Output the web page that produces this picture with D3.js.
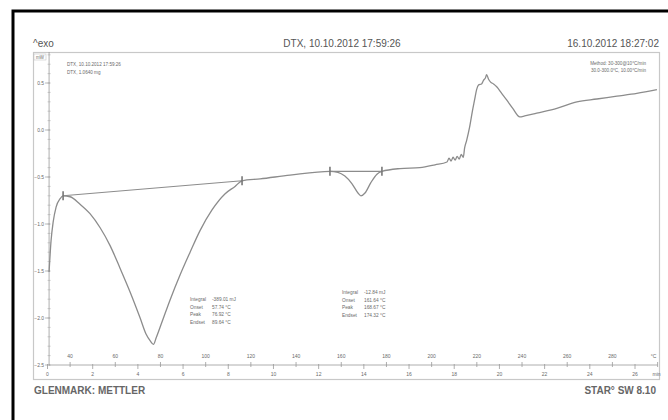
<!DOCTYPE html>
<html>
<head>
<meta charset="utf-8">
<script src="https://cdn.jsdelivr.net/npm/d3@7"></script>
<style>
  body { margin: 0; background: #fff; }
  svg { display: block; font-family: "Liberation Sans", Arial, sans-serif; }
</style>
</head>
<body>
<svg id="chart" width="668" height="420"></svg>
<script>
// DSC curve: sample temperature (°C) and heat flow (mW), exo up
const temperature = [30.7, 31.6, 32.5, 33.8, 35.6, 36.9, 40.0, 44.4, 48.8, 53.3, 57.7, 62.1, 66.5, 71.0, 73.6, 75.4, 76.9,
  78.1, 80.7, 84.2, 88.7, 93.1, 97.5, 102.8, 108.5, 113.0, 116.1, 124.1, 137.3, 155.0, 158.5, 161.6, 164.7, 167.4, 168.7,
  170.5, 173.1, 175.8, 178.0, 186.0, 194.8, 201.5, 206.8, 207.7, 208.6, 209.5, 210.4, 211.3, 212.2, 213.1, 214.0, 214.6,
  215.5, 216.8, 218.1, 219.0, 219.9, 220.8, 222.1, 223.0, 223.9, 224.3, 225.2, 226.1, 227.4, 228.8, 231.0, 233.2, 235.9,
  239.0, 241.2, 246.5, 255.4, 264.3, 273.1, 282.0, 290.8, 299.7];
const heatFlow = [-1.51, -1.17, -0.98, -0.82, -0.73, -0.70, -0.71, -0.79, -0.89, -1.04, -1.23, -1.47, -1.72, -2.00, -2.17, -2.24, -2.28,
  -2.21, -2.04, -1.81, -1.54, -1.30, -1.07, -0.85, -0.68, -0.60, -0.54, -0.52, -0.48, -0.44, -0.45, -0.49, -0.57, -0.67, -0.70,
  -0.67, -0.56, -0.47, -0.44, -0.41, -0.40, -0.37, -0.34, -0.30, -0.33, -0.29, -0.32, -0.28, -0.31, -0.26, -0.29, -0.19,
  -0.11, 0.03, 0.21, 0.32, 0.43, 0.48, 0.49, 0.53, 0.56, 0.59, 0.54, 0.51, 0.49, 0.46, 0.39, 0.32, 0.23,
  0.14, 0.15, 0.18, 0.23, 0.30, 0.33, 0.36, 0.39, 0.43];

// Integration limits of the two evaluated peaks (baseline end points)
const peakLimits = [[36.9, 116.1], [155.0, 178.0]];

const tempTicks = [40, 60, 80, 100, 120, 140, 160, 180, 200, 220, 240, 260, 280];
const timeTicks = [2, 4, 6, 8, 10, 12, 14, 16, 18, 20, 22, 24, 26];
const heatTicks = [0.5, 0.0, -0.5, -1.0, -1.5, -2.0, -2.5];

const evalLabels = ["Integral", "Onset", "Peak", "Endset"];
const evalPeak1 = ["-389.01 mJ", "57.74 °C", "76.92 °C", "89.64 °C"];
const evalPeak2 = ["-12.84 mJ", "161.64 °C", "168.67 °C", "174.32 °C"];

const sampleInfo = ["DTX, 10.10.2012 17:59:26", "DTX, 1.0640 mg"];
const methodInfo = ["Method: 30-300@10°C/min", "30.0-300.0°C, 10.00°C/min"];

const svg = d3.select("#chart");
const ink = "#6a6a6a";
const curveColor = "#8c8c8c";

// page frame (left and top edges of the sheet)
svg.append("path").attr("d", "M13,420 V11 H668").attr("fill", "none")
  .attr("stroke", "#000").attr("stroke-width", 3);

// header
svg.append("text").attr("x", 33).attr("y", 47).attr("font-size", 10).attr("fill", "#555").text("^exo");
svg.append("text").attr("x", 342).attr("y", 47).attr("font-size", 10).attr("fill", "#555")
  .attr("text-anchor", "middle").text("DTX, 10.10.2012 17:59:26");
svg.append("text").attr("x", 659).attr("y", 47).attr("font-size", 10).attr("fill", "#555")
  .attr("text-anchor", "end").text("16.10.2012 18:27:02");

// plot panel
svg.append("rect").attr("x", 33.5).attr("y", 52.5).attr("width", 626).attr("height", 327)
  .attr("fill", "none").attr("stroke", "#c8c8c8").attr("stroke-width", 1.2);

// footer
svg.append("text").attr("x", 34).attr("y", 394).attr("font-size", 10).attr("font-weight", "bold")
  .attr("fill", "#666").text("GLENMARK: METTLER");
svg.append("text").attr("x", 656).attr("y", 394).attr("font-size", 10).attr("font-weight", "bold")
  .attr("fill", "#666").attr("text-anchor", "end").text("STAR° SW 8.10");

// scales
const x = d3.scaleLinear().domain([30, 300]).range([47.5, 657.6]);
const xTime = d3.scaleLinear().domain([0, 27]).range([47.5, 657.6]);
const y = d3.scaleLinear().domain([-2.5, 0.83]).range([365, 52]);
const axisX = x(temperature[0]);
const axisY = y(-2.5);

// y axis
const gy = svg.append("g").attr("transform", `translate(${axisX},0)`);
gy.append("line").attr("y1", y(0.83)).attr("y2", axisY).attr("stroke", "#999").attr("stroke-width", 0.8);
gy.selectAll("line.minor").data(d3.range(-25, 9).map(v => v / 10)).join("line")
  .attr("class", "minor").attr("x1", -1.5).attr("x2", 1.5)
  .attr("y1", d => y(d)).attr("y2", d => y(d)).attr("stroke", "#aaa").attr("stroke-width", 0.6);
gy.selectAll("line.major").data(heatTicks).join("line")
  .attr("class", "major").attr("x1", -4).attr("x2", 1)
  .attr("y1", d => y(d)).attr("y2", d => y(d)).attr("stroke", "#999").attr("stroke-width", 0.7);
gy.selectAll("text").data(heatTicks).join("text")
  .attr("x", -5).attr("y", d => y(d) + 1.8).attr("text-anchor", "end")
  .attr("font-size", 5).attr("fill", ink).text(d => d3.format(".1f")(d));
svg.append("rect").attr("x", 34).attr("y", 54).attr("width", 12).attr("height", 6)
  .attr("fill", "#fff").attr("stroke", "#bbb").attr("stroke-width", 0.5);
svg.append("text").attr("x", 36).attr("y", 58.5).attr("font-size", 4.5).attr("fill", ink).text("mW");

// x axis: temperature above, time below
const gx = svg.append("g");
gx.append("line").attr("x1", axisX).attr("x2", x(300)).attr("y1", axisY).attr("y2", axisY)
  .attr("stroke", "#999").attr("stroke-width", 0.8);
gx.selectAll("line.t").data(tempTicks.concat([300])).join("line").attr("class", "t")
  .attr("x1", d => x(d)).attr("x2", d => x(d)).attr("y1", axisY - 3).attr("y2", axisY + 2)
  .attr("stroke", "#999").attr("stroke-width", 0.8);
gx.selectAll("text.t").data(tempTicks).join("text").attr("class", "t")
  .attr("x", d => x(d)).attr("y", axisY - 7).attr("text-anchor", "middle")
  .attr("font-size", 5).attr("fill", ink).text(d => d);
gx.append("text").attr("x", x(300) - 4).attr("y", axisY - 7).attr("text-anchor", "middle")
  .attr("font-size", 5).attr("fill", ink).text("°C");
gx.selectAll("line.m").data([0].concat(timeTicks)).join("line").attr("class", "m")
  .attr("x1", d => xTime(d)).attr("x2", d => xTime(d)).attr("y1", axisY - 1).attr("y2", axisY + 4)
  .attr("stroke", "#999").attr("stroke-width", 0.8);
gx.selectAll("text.m").data([0].concat(timeTicks)).join("text").attr("class", "m")
  .attr("x", d => xTime(d)).attr("y", axisY + 11).attr("text-anchor", "middle")
  .attr("font-size", 5).attr("fill", ink).text(d => d);
gx.append("text").attr("x", x(300) - 1).attr("y", axisY + 11).attr("text-anchor", "middle")
  .attr("font-size", 5).attr("fill", ink).text("min");

// curve
const pts = temperature.map((t, i) => [t, heatFlow[i]]);
svg.append("path").datum(pts)
  .attr("d", d3.line().x(d => x(d[0])).y(d => y(d[1])).curve(d3.curveMonotoneX))
  .attr("fill", "none").attr("stroke", curveColor).attr("stroke-width", 1.3);

// baselines and limit markers
const hfAt = t => heatFlow[temperature.indexOf(t)];
peakLimits.forEach(([a, b]) => {
  svg.append("line").attr("x1", x(a)).attr("y1", y(hfAt(a))).attr("x2", x(b)).attr("y2", y(hfAt(b)))
    .attr("stroke", curveColor).attr("stroke-width", 1.1);
  [a, b].forEach(t => {
    svg.append("line").attr("x1", x(t)).attr("x2", x(t))
      .attr("y1", y(hfAt(t)) - 4.5).attr("y2", y(hfAt(t)) + 4.5)
      .attr("stroke", "#777").attr("stroke-width", 1.6);
  });
});

// info texts
sampleInfo.forEach((s, i) => svg.append("text").attr("x", 67).attr("y", 66 + i * 7.5)
  .attr("font-size", 4.6).attr("fill", ink).text(s));
methodInfo.forEach((s, i) => svg.append("text").attr("x", 646).attr("y", 65 + i * 7)
  .attr("font-size", 4.6).attr("fill", ink).attr("text-anchor", "end").text(s));

// peak evaluation blocks
function evalBlock(x0, y0, values) {
  evalLabels.forEach((l, i) => {
    svg.append("text").attr("x", x0).attr("y", y0 + i * 7.5).attr("font-size", 4.8).attr("fill", ink).text(l);
    svg.append("text").attr("x", x0 + 22).attr("y", y0 + i * 7.5).attr("font-size", 4.8).attr("fill", ink).text(values[i]);
  });
}
evalBlock(190, 301, evalPeak1);
evalBlock(342, 294, evalPeak2);
</script>
</body>
</html>
